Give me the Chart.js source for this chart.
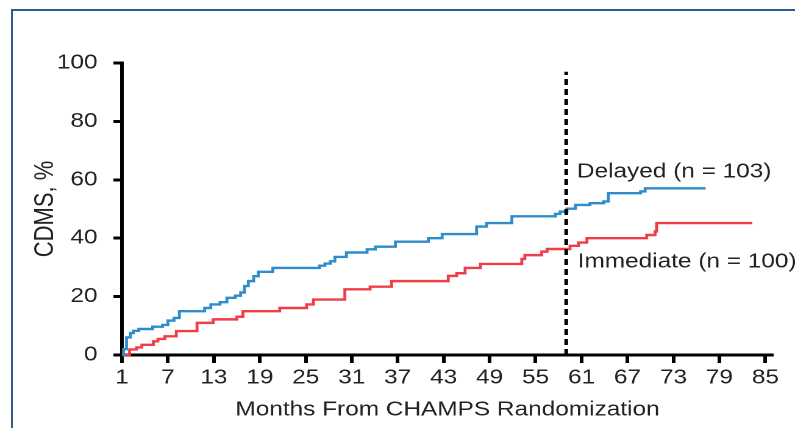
<!DOCTYPE html>
<html>
<head>
<meta charset="utf-8">
<script src="https://cdn.jsdelivr.net/npm/chart.js@4/dist/chart.umd.min.js"></script>
<style>
  html, body { margin:0; padding:0; background:#fff; width:795px; height:428px; overflow:hidden; }
  #frame { position:absolute; left:11px; top:9px; width:820px; height:440px;
           border-left:2px solid #2f5b8f; border-top:2px solid #2f5b8f; }
  #wrap { position:absolute; left:0; top:0; width:652px; height:428px;
          transform:scaleX(1.2193); transform-origin:0 0; }
</style>
</head>
<body>
<div id="frame"></div>
<div id="wrap"><canvas id="c" width="652" height="428"></canvas></div>
<script>
// ---- data ----
const xTickValues = [1, 7, 13, 19, 25, 31, 37, 43, 49, 55, 61, 67, 73, 79, 85];
const yTickValues = [0, 20, 40, 60, 80, 100];

const delayedLabel = 'Delayed (n = 103)';
const delayedMonths = [1, 1.2, 1.6, 2.1, 2.5, 3.2, 5.0, 6.3, 7.0, 7.8, 8.5, 11.8, 12.6, 13.8, 14.7, 15.8, 16.5, 17.0, 17.5, 18.2, 18.8, 20.7, 26.8, 27.5, 28.2, 28.8, 30.3, 33.0, 34.1, 36.7, 41.0, 42.8, 47.3, 48.6, 51.9, 57.6, 58.2, 59.1, 60.2, 62.1, 63.9, 64.5, 68.7, 69.3, 77.2];
const delayedPct    = [0, 2, 6, 7.5, 8.3, 8.9, 9.7, 10.3, 11.8, 12.7, 15.0, 16.1, 17.3, 18.1, 19.6, 20.3, 21.4, 23.6, 25.3, 27.0, 28.5, 29.8, 30.6, 31.3, 32.1, 33.6, 35.1, 36.2, 37.1, 38.8, 40.0, 41.4, 44.0, 45.2, 47.5, 48.3, 49.1, 50.1, 51.4, 52.0, 52.6, 55.4, 56.0, 57.1, 57.1];

const immediateLabel = 'Immediate (n = 100)';
const immediateMonths = [1, 2.0, 2.9, 3.6, 5.1, 5.7, 6.6, 8.1, 10.8, 12.9, 16.0, 16.8, 21.6, 25.1, 26.0, 30.1, 33.4, 36.2, 43.6, 44.7, 45.8, 47.8, 53.2, 53.6, 55.8, 56.5, 59.5, 60.6, 61.7, 69.5, 70.6, 70.8, 83.3];
const immediatePct    = [0, 1.9, 2.6, 3.5, 4.7, 5.5, 6.4, 8.2, 11.0, 12.2, 13.1, 15.0, 16.1, 17.3, 19.0, 22.5, 23.4, 25.3, 27.1, 28.0, 29.8, 31.2, 32.9, 34.2, 35.4, 36.3, 37.4, 38.5, 40.0, 41.1, 42.3, 45.2, 45.2];

const cutoffMonth = 59;
const cutoffRange = [0, 97];

// label anchors in data units (month, %)
const delayedLabelAt = [60.4, 62.7];
const immediateLabelAt = [60.5, 31.8];

// ---- chart ----
const toPts = (xs, ys) => xs.map((x, i) => ({ x: x, y: ys[i] }));

const labelPlugin = {
  id: 'curveLabels',
  afterDatasetsDraw(chart) {
    const { ctx, scales: { x, y } } = chart;
    ctx.save();
    ctx.font = '20px "Liberation Sans", Arial, sans-serif';
    ctx.fillStyle = '#222';
    ctx.textAlign = 'left';
    ctx.textBaseline = 'middle';
    ctx.fillText(delayedLabel, x.getPixelForValue(delayedLabelAt[0]), y.getPixelForValue(delayedLabelAt[1]));
    ctx.fillText(immediateLabel, x.getPixelForValue(immediateLabelAt[0]), y.getPixelForValue(immediateLabelAt[1]));
    ctx.restore();
  }
};

const fontFamily = '"Liberation Sans", Arial, sans-serif';

new Chart(document.getElementById('c'), {
  type: 'line',
  data: {
    datasets: [
      {
        label: 'cutoff',
        data: toPts([cutoffMonth, cutoffMonth], cutoffRange),
        borderColor: '#000',
        borderWidth: 3,
        borderDash: [6, 4],
        pointRadius: 0,
        clip: false
      },
      {
        label: delayedLabel,
        data: toPts(delayedMonths, delayedPct),
        borderColor: '#2e8cca',
        borderWidth: 2.4,
        stepped: true,
        pointRadius: 0,
        clip: false
      },
      {
        label: immediateLabel,
        data: toPts(immediateMonths, immediatePct),
        borderColor: '#ef3e48',
        borderWidth: 2.4,
        stepped: true,
        pointRadius: 0,
        clip: false
      }
    ]
  },
  options: {
    responsive: false,
    animation: false,
    devicePixelRatio: 2,
    layout: { padding: { top: 63, right: 18, left: 0, bottom: 0 } },
    plugins: { legend: { display: false }, tooltip: { enabled: false } },
    scales: {
      x: {
        type: 'linear',
        min: 1,
        max: 86,
        afterBuildTicks: s => { s.ticks = xTickValues.map(v => ({ value: v })); },
        afterFit: s => { s.height = 73; },
        grid: { drawOnChartArea: false, tickLength: 8, tickWidth: 3, tickColor: '#000' },
        border: { display: true, width: 3, color: '#000' },
        ticks: { color: '#222', font: { family: fontFamily, size: 20 }, padding: 3, maxRotation: 0, autoSkip: false },
        title: { display: true, text: 'Months From CHAMPS Randomization', color: '#222',
                 font: { family: fontFamily, size: 20 }, padding: { top: 0, bottom: 6 } }
      },
      y: {
        min: 0,
        max: 100,
        afterBuildTicks: s => { s.ticks = yTickValues.map(v => ({ value: v })); },
        afterFit: s => { s.width = 100; },
        grid: { drawOnChartArea: false, tickLength: 7, tickWidth: 3, tickColor: '#000' },
        border: { display: true, width: 3, color: '#000' },
        ticks: { color: '#222', font: { family: fontFamily, size: 20 }, padding: 13 },
        title: { display: true, text: 'CDMS, %', color: '#222',
                 font: { family: fontFamily, size: 22 }, padding: { top: 24, bottom: 0 } }
      }
    }
  },
  plugins: [labelPlugin]
});
</script>
</body>
</html>
